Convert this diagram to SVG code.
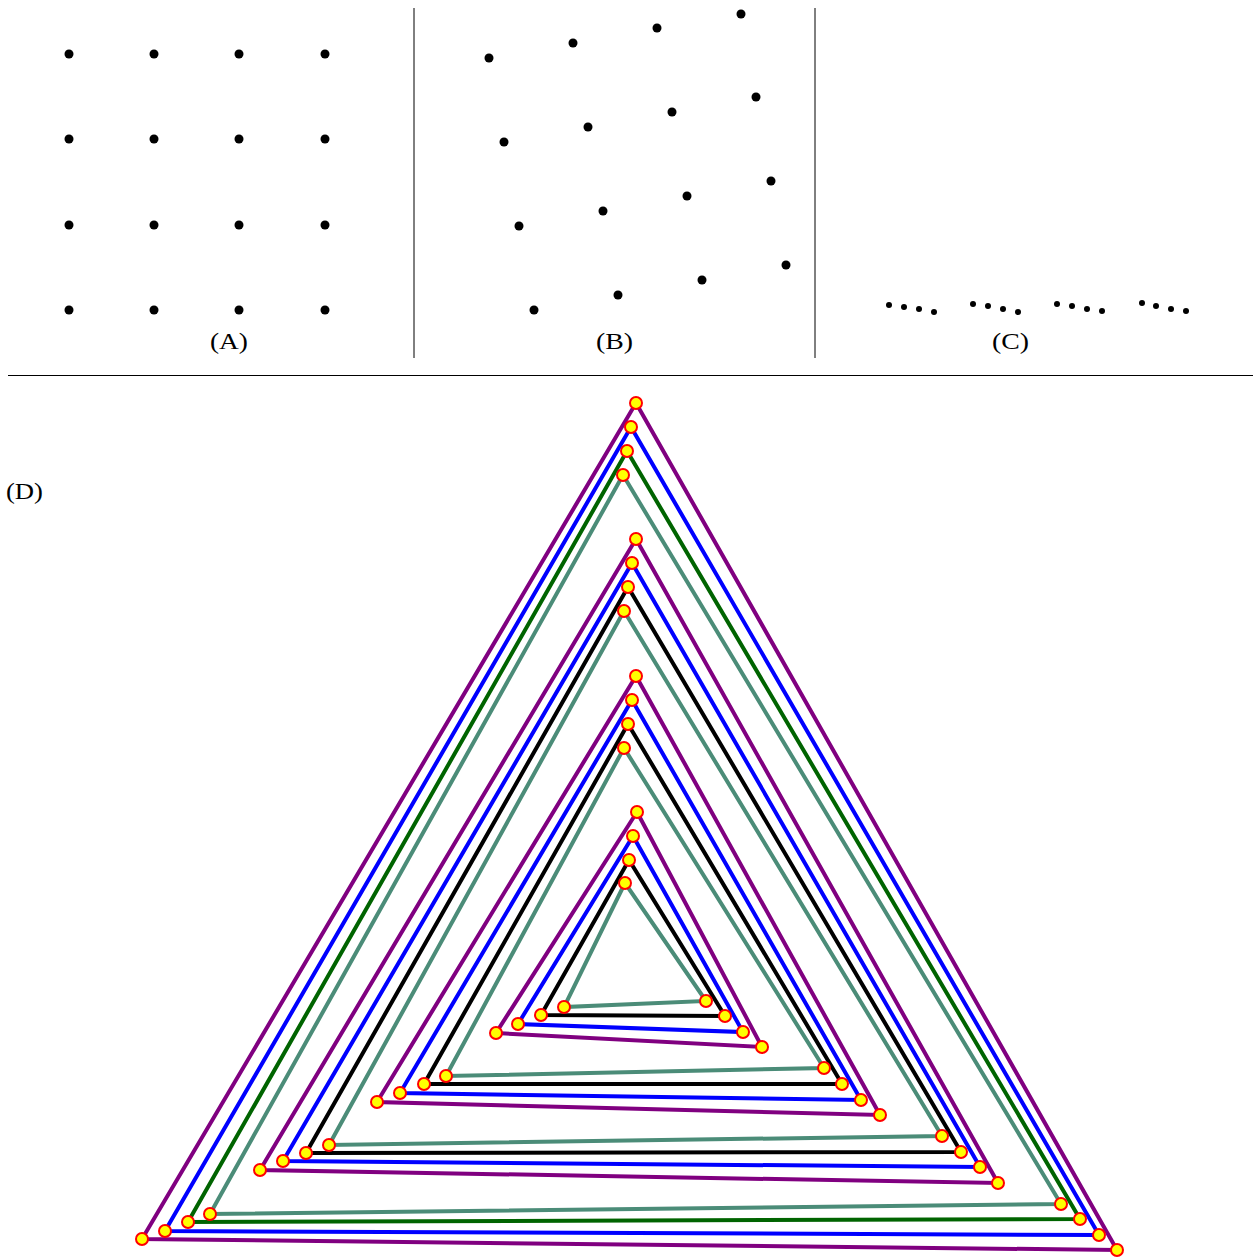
<svg xmlns="http://www.w3.org/2000/svg" width="1253" height="1257" viewBox="0 0 1253 1257">
<style>
.lbl{font-family:"Liberation Serif","DejaVu Serif",serif;font-size:24px;fill:#000}
.sep{stroke:#000;stroke-width:1;fill:none}
.d{fill:#000}
.tri{fill:none;stroke-width:4;stroke-linejoin:miter}
.pu{stroke:#800080}.bl{stroke:#0000ff}.gr{stroke:#006400}.bk{stroke:#000}.te{stroke:#4b8c78}
.v{fill:#ffff00;stroke:#ff0000;stroke-width:2}
</style>
<rect width="1253" height="1257" fill="#fff"/>
<g id="separators">
<line class="sep" x1="414" y1="8" x2="414" y2="358"/>
<line class="sep" x1="815" y1="8" x2="815" y2="358"/>
<line class="sep" x1="8" y1="375.5" x2="1253" y2="375.5"/>
</g>
<g id="panelA">
<g class="d">
<circle cx="69" cy="54" r="4.5"/><circle cx="154" cy="54" r="4.5"/><circle cx="239" cy="54" r="4.5"/><circle cx="325" cy="54" r="4.5"/>
<circle cx="69" cy="139" r="4.5"/><circle cx="154" cy="139" r="4.5"/><circle cx="239" cy="139" r="4.5"/><circle cx="325" cy="139" r="4.5"/>
<circle cx="69" cy="225" r="4.5"/><circle cx="154" cy="225" r="4.5"/><circle cx="239" cy="225" r="4.5"/><circle cx="325" cy="225" r="4.5"/>
<circle cx="69" cy="310" r="4.5"/><circle cx="154" cy="310" r="4.5"/><circle cx="239" cy="310" r="4.5"/><circle cx="325" cy="310" r="4.5"/>
</g>
<text class="lbl" x="210" y="349" textLength="38" lengthAdjust="spacingAndGlyphs">(A)</text>
</g>
<g id="panelB">
<g class="d">
<circle cx="489" cy="58" r="4.5"/><circle cx="573" cy="43" r="4.5"/><circle cx="657" cy="28" r="4.5"/><circle cx="741" cy="14" r="4.5"/>
<circle cx="504" cy="142" r="4.5"/><circle cx="588" cy="127" r="4.5"/><circle cx="672" cy="112" r="4.5"/><circle cx="756" cy="97" r="4.5"/>
<circle cx="519" cy="226" r="4.5"/><circle cx="603" cy="211" r="4.5"/><circle cx="687" cy="196" r="4.5"/><circle cx="771" cy="181" r="4.5"/>
<circle cx="534" cy="310" r="4.5"/><circle cx="618" cy="295" r="4.5"/><circle cx="702" cy="280" r="4.5"/><circle cx="786" cy="265" r="4.5"/>
</g>
<text class="lbl" x="596" y="349" textLength="37" lengthAdjust="spacingAndGlyphs">(B)</text>
</g>
<g id="panelC">
<g class="d">
<circle cx="889" cy="305" r="3"/><circle cx="904" cy="307" r="3"/><circle cx="919" cy="309" r="3"/><circle cx="934" cy="312" r="3"/>
<circle cx="973" cy="304" r="3"/><circle cx="988" cy="306" r="3"/><circle cx="1003" cy="309" r="3"/><circle cx="1018" cy="312" r="3"/>
<circle cx="1057" cy="304" r="3"/><circle cx="1072" cy="306" r="3"/><circle cx="1087" cy="309" r="3"/><circle cx="1102" cy="311" r="3"/>
<circle cx="1142" cy="303" r="3"/><circle cx="1156" cy="306" r="3"/><circle cx="1171" cy="309" r="3"/><circle cx="1186" cy="311" r="3"/>
</g>
<text class="lbl" x="992" y="349" textLength="37" lengthAdjust="spacingAndGlyphs">(C)</text>
</g>
<g id="panelD">
<text class="lbl" x="6" y="499" textLength="37" lengthAdjust="spacingAndGlyphs">(D)</text>
<g id="connectors">
<polygon class="tri pu" points="636,403 142,1239 1117,1250"/>
<polygon class="tri bl" points="631,427 165,1231 1099,1235"/>
<polygon class="tri gr" points="627,451 188,1222 1080,1219"/>
<polygon class="tri te" points="623,475 210,1214 1061,1204"/>
<polygon class="tri pu" points="636,539 260,1170 998,1183"/>
<polygon class="tri bl" points="632,563 283,1161 980,1167"/>
<polygon class="tri bk" points="628,587 306,1153 961,1152"/>
<polygon class="tri te" points="624,611 329,1145 942,1136"/>
<polygon class="tri pu" points="636,676 377,1102 880,1115"/>
<polygon class="tri bl" points="632,700 400,1093 861,1100"/>
<polygon class="tri bk" points="628,724 424,1084 842,1084"/>
<polygon class="tri te" points="624,748 446,1076 824,1068"/>
<polygon class="tri pu" points="637,812 496,1033 762,1047"/>
<polygon class="tri bl" points="633,836 518,1024 743,1032"/>
<polygon class="tri bk" points="629,860 541,1015 725,1016"/>
<polygon class="tri te" points="625,883 564,1007 706,1001"/>
</g>
<g id="vertices">
<circle class="v" cx="636" cy="403" r="6"/><circle class="v" cx="142" cy="1239" r="6"/><circle class="v" cx="1117" cy="1250" r="6"/>
<circle class="v" cx="631" cy="427" r="6"/><circle class="v" cx="165" cy="1231" r="6"/><circle class="v" cx="1099" cy="1235" r="6"/>
<circle class="v" cx="627" cy="451" r="6"/><circle class="v" cx="188" cy="1222" r="6"/><circle class="v" cx="1080" cy="1219" r="6"/>
<circle class="v" cx="623" cy="475" r="6"/><circle class="v" cx="210" cy="1214" r="6"/><circle class="v" cx="1061" cy="1204" r="6"/>
<circle class="v" cx="636" cy="539" r="6"/><circle class="v" cx="260" cy="1170" r="6"/><circle class="v" cx="998" cy="1183" r="6"/>
<circle class="v" cx="632" cy="563" r="6"/><circle class="v" cx="283" cy="1161" r="6"/><circle class="v" cx="980" cy="1167" r="6"/>
<circle class="v" cx="628" cy="587" r="6"/><circle class="v" cx="306" cy="1153" r="6"/><circle class="v" cx="961" cy="1152" r="6"/>
<circle class="v" cx="624" cy="611" r="6"/><circle class="v" cx="329" cy="1145" r="6"/><circle class="v" cx="942" cy="1136" r="6"/>
<circle class="v" cx="636" cy="676" r="6"/><circle class="v" cx="377" cy="1102" r="6"/><circle class="v" cx="880" cy="1115" r="6"/>
<circle class="v" cx="632" cy="700" r="6"/><circle class="v" cx="400" cy="1093" r="6"/><circle class="v" cx="861" cy="1100" r="6"/>
<circle class="v" cx="628" cy="724" r="6"/><circle class="v" cx="424" cy="1084" r="6"/><circle class="v" cx="842" cy="1084" r="6"/>
<circle class="v" cx="624" cy="748" r="6"/><circle class="v" cx="446" cy="1076" r="6"/><circle class="v" cx="824" cy="1068" r="6"/>
<circle class="v" cx="637" cy="812" r="6"/><circle class="v" cx="496" cy="1033" r="6"/><circle class="v" cx="762" cy="1047" r="6"/>
<circle class="v" cx="633" cy="836" r="6"/><circle class="v" cx="518" cy="1024" r="6"/><circle class="v" cx="743" cy="1032" r="6"/>
<circle class="v" cx="629" cy="860" r="6"/><circle class="v" cx="541" cy="1015" r="6"/><circle class="v" cx="725" cy="1016" r="6"/>
<circle class="v" cx="625" cy="883" r="6"/><circle class="v" cx="564" cy="1007" r="6"/><circle class="v" cx="706" cy="1001" r="6"/>
</g>
</g>
</svg>
